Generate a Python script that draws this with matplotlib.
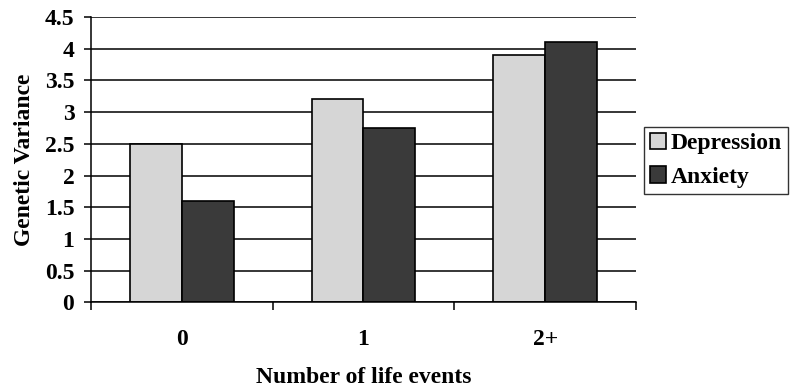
import matplotlib
matplotlib.use("Agg")
from matplotlib import pyplot as plt
from matplotlib.ticker import FixedLocator, MultipleLocator
import numpy as np

# genetic variance by number of life events
categories = ["0", "1", "2+"]
depression = [2.5, 3.2, 3.9]
anxiety = [1.6, 2.75, 4.1]

plt.rcParams['font.family'] = ['Liberation Serif', 'DejaVu Serif']
plt.rcParams['font.weight'] = 'bold'

fig = plt.figure(figsize=(7.9, 3.88), dpi=100)
ax = fig.add_axes([0.1152, 0.2204, 0.6898, 0.7358])

x = np.arange(len(categories))
w = 0.286
ax.bar(x - w / 2, depression, w, color="#d6d6d6", edgecolor="black",
       linewidth=1.2, label="Depression", zorder=3)
ax.bar(x + w / 2, anxiety, w, color="#3a3a3a", edgecolor="black",
       linewidth=1.2, label="Anxiety", zorder=3)

ax.set_xlim(-0.5, len(categories) - 0.5)
ax.set_ylim(0, 4.5)

# horizontal gridlines at every half unit
ax.yaxis.set_major_locator(MultipleLocator(0.5))
ax.set_yticklabels([f"{v:g}" for v in ax.get_yticks()])
ax.grid(axis="y", color="black", linewidth=1.1, zorder=0)

# tick marks between groups, labels at group centres
ax.xaxis.set_major_locator(FixedLocator(np.arange(len(categories) + 1) - 0.5))
ax.xaxis.set_minor_locator(FixedLocator(x))
ax.set_xticklabels([], minor=False)
ax.set_xticklabels(categories, minor=True)
ax.tick_params(axis="x", which="major", length=6, width=1.1, direction="out")
ax.tick_params(axis="x", which="minor", length=0, pad=19, labelsize=17)
ax.tick_params(axis="y", length=5, width=1.1, pad=7, labelsize=17)

for s in ["top", "right"]:
    ax.spines[s].set_visible(False)
for s in ["left", "bottom"]:
    ax.spines[s].set_linewidth(1.1)
    ax.spines[s].set_zorder(4)

ax.set_xlabel("Number of life events", fontsize=17, fontweight="bold")
ax.xaxis.set_label_coords(0.5, -0.226)
ax.set_ylabel("Genetic Variance", fontsize=17, fontweight="bold")
ax.yaxis.set_label_coords(-0.103, 0.5)

leg = fig.legend(loc="upper left", bbox_to_anchor=(0.815, 0.673),
                 fontsize=17, frameon=True, fancybox=False, edgecolor="black",
                 borderpad=0.25, handlelength=0.7, handleheight=0.7,
                 handletextpad=0.2, labelspacing=0.5, borderaxespad=0)
leg.get_frame().set_linewidth(1.0)

plt.savefig("out.png", dpi=100)
